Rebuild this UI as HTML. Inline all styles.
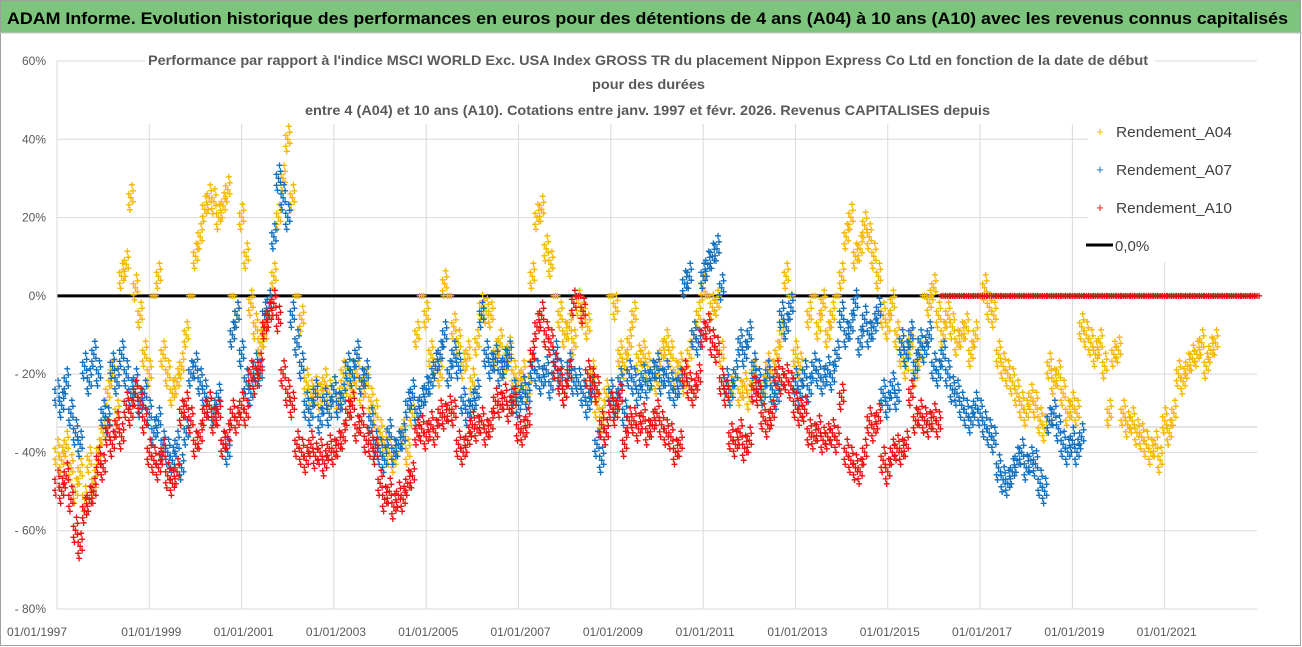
<!DOCTYPE html>
<html><head><meta charset="utf-8"><style>
html,body{margin:0;padding:0;background:#fff;}
svg{display:block;font-family:"Liberation Sans",sans-serif;}
</style></head><body>
<svg id="chart" width="1302" height="647" viewBox="0 0 1302 647">
<rect x="0" y="0" width="1302" height="647" fill="#fff"/>
<rect x="0.5" y="0.5" width="1300" height="645" fill="none" stroke="#a0a0a0"/>
<rect x="1" y="1" width="1299" height="32" fill="#7dc57c"/>
<line x1="0" y1="33" x2="1302" y2="33" stroke="#c8c8c8"/>
<text x="7" y="24" font-size="17" font-weight="bold" fill="#000" textLength="1281" lengthAdjust="spacingAndGlyphs">ADAM Informe. Evolution historique des performances en euros pour des détentions de 4 ans (A04) à 10 ans (A10) avec les revenus connus capitalisés</text>
<g id="grid"></g>
<g id="marks"></g>
<g id="axes"></g>
<rect x="145" y="44" width="1010" height="76" fill="#fff"/>
<text x="148" y="65" font-size="14" font-weight="bold" fill="#595959" textLength="1000" lengthAdjust="spacingAndGlyphs">Performance par rapport à l'indice MSCI WORLD Exc. USA Index GROSS TR  du placement Nippon Express Co Ltd en fonction de la date de début</text>
<text x="592" y="89" font-size="14" font-weight="bold" fill="#595959" textLength="113" lengthAdjust="spacingAndGlyphs">pour des durées</text>
<text x="305" y="115" font-size="14" font-weight="bold" fill="#595959" textLength="685" lengthAdjust="spacingAndGlyphs">entre 4 (A04) et 10 ans (A10). Cotations entre janv. 1997 et févr. 2026. Revenus CAPITALISES depuis</text>
<g>
<rect x="1088" y="112" width="170" height="150" fill="#fff"/>
<g><text x="1100" y="136" font-size="13" fill="#f5b800" text-anchor="middle">+</text><text x="1116" y="137" font-size="15" fill="#404040" textLength="116" lengthAdjust="spacingAndGlyphs">Rendement_A04</text></g>
<g><text x="1100" y="174" font-size="13" fill="#1170c0" text-anchor="middle">+</text><text x="1116" y="175" font-size="15" fill="#404040" textLength="116" lengthAdjust="spacingAndGlyphs">Rendement_A07</text></g>
<g><text x="1100" y="212" font-size="13" fill="#ee1111" text-anchor="middle">+</text><text x="1116" y="213" font-size="15" fill="#404040" textLength="116" lengthAdjust="spacingAndGlyphs">Rendement_A10</text></g>
<g><line x1="1086" y1="245" x2="1113" y2="245" stroke="#000" stroke-width="3"/><text x="1115" y="251" font-size="15" fill="#404040">0,0%</text></g>
</g>
</svg>
<script>
const yTicks = [60, 40, 20, 0, -20, -40, -60, -80];
const yTickLabels = ["60%", "40%", "20%", "0%", "- 20%", "- 40%", "- 60%", "- 80%"];
const xTicks = [1997, 1999, 2001, 2003, 2005, 2007, 2009, 2011, 2013, 2015, 2017, 2019, 2021];
const xTickLabels = ["01/01/1997","01/01/1999","01/01/2001","01/01/2003","01/01/2005","01/01/2007","01/01/2009","01/01/2011","01/01/2013","01/01/2015","01/01/2017","01/01/2019","01/01/2021"];
const extraGridValue = -33.5;
const seriesStart = 1997.0;
const seriesStep = 0.1;
const a04Values = [-40,-42,-38,-44,-50,-45,-52,-42,-48,-40,-35,-25,-20,-30,5,8,25,2,-5,-15,-20,0,5,-15,-20,-25,-22,-18,-10,0,10,15,22,25,24,20,23,27,0,-5,20,10,-2,-8,-12,-10,-5,5,20,30,40,25,0,-6,-22,-25,-24,-26,-22,-25,-24,-27,-20,-22,-24,-20,-25,-22,-27,-30,-35,-38,-40,-42,-38,-35,-40,-30,-10,0,-5,-15,-18,-20,3,0,-8,-12,-18,-15,-22,-12,-3,-4,-5,-15,-12,-18,-14,-20,-23,-20,-24,5,20,22,12,8,0,-5,-10,-8,-12,-2,-5,-8,-20,-28,-32,-25,0,-3,-15,-18,-12,-5,-16,-15,-18,-20,-22,-15,-12,-15,-20,-18,-22,-15,-10,-5,2,0,-3,-2,-15,-22,-24,-20,-25,-23,-26,-20,-22,-24,-18,-20,-15,-10,5,0,-15,-18,-20,-5,0,-8,-2,-10,-5,0,5,15,20,10,12,18,15,10,5,-5,-8,-2,-10,-15,-18,-12,-20,-15,0,-2,2,-5,-10,-5,-8,-12,-10,-8,-15,-10,0,2,-3,-5,-15,-18,-20,-22,-25,-28,-30,-26,-28,-32,-34,-18,-22,-20,-25,-30,-28,-30,-8,-10,-12,-15,-12,-18,-30,-15,-14,-30,-33,-32,-35,-36,-38,-40,-38,-42,-32,-35,-30,-20,-22,-18,-16,-15,-12,-18,-14,-12];
const a07Values = [-25,-28,-22,-30,-35,-38,-18,-22,-15,-20,-30,-32,-18,-22,-15,-20,-25,-22,-28,-25,-30,-35,-32,-38,-40,-42,-38,-44,-35,-20,-18,-22,-25,-28,-30,-26,-38,-40,-10,-5,-15,-22,-25,-18,-20,-5,-2,15,30,25,20,-5,-12,-18,-28,-30,-25,-32,-27,-30,-24,-28,-26,-18,-20,-15,-22,-20,-32,-38,-40,-42,-35,-40,-38,-36,-28,-25,-30,-27,-24,-22,-18,-15,-10,-20,-15,-18,-27,-30,-28,-25,-5,-15,-18,-16,-20,-17,-15,-25,-28,-24,-26,-18,-20,-22,-19,-23,-15,-20,-25,-18,-22,-22,-25,-28,-24,-38,-42,-35,-25,-28,-22,-30,-20,-22,-25,-21,-23,-20,-18,-22,-20,-23,-25,-22,3,5,-10,-12,5,8,10,12,2,-22,-25,-20,-12,-15,-10,-18,-22,-25,-20,-24,-26,-5,-8,-3,-22,-25,-20,-24,-18,-20,-22,-19,-21,-15,-5,-10,-8,-2,-12,-6,-10,-8,-4,-25,-28,-23,-26,-12,-15,-10,-18,-12,-14,-10,-18,-20,-15,-20,-24,-25,-28,-30,-32,-28,-30,-33,-35,-37,-44,-47,-48,-45,-42,-40,-44,-42,-43,-48,-50,-32,-30,-34,-38,-40,-37,-40,-36];
const a10Values = [-48,-50,-46,-52,-60,-64,-55,-52,-50,-42,-44,-35,-38,-33,-36,-28,-30,-25,-27,-32,-40,-42,-44,-40,-46,-48,-45,-30,-28,-32,-38,-36,-30,-28,-32,-30,-38,-36,-30,-32,-28,-30,-20,-22,-18,-8,-5,-2,-6,-20,-25,-28,-38,-40,-42,-38,-41,-40,-43,-39,-40,-38,-36,-30,-28,-34,-32,-37,-38,-40,-48,-52,-50,-54,-51,-52,-48,-46,-35,-34,-36,-33,-35,-30,-31,-29,-30,-38,-40,-37,-33,-34,-32,-35,-33,-27,-28,-26,-29,-27,-34,-35,-32,-15,-8,-5,-10,-12,-18,-22,-25,-20,-2,0,-4,-20,-22,-24,-33,-35,-28,-30,-26,-38,-32,-32,-34,-31,-35,-33,-30,-33,-35,-36,-40,-38,-20,-23,-25,-21,-10,-8,-12,-14,-22,-25,-36,-38,-35,-39,-37,-24,-25,-31,-33,-30,-20,-22,-21,-23,-28,-30,-29,-35,-36,-34,-37,-36,-35,-37,-26,-40,-42,-44,-45,-40,-32,-34,-31,-42,-45,-40,-39,-40,-38,-25,-32,-30,-32,-33,-31,-33,0,0,0,0,0,0,0,0,0,0,0,0,0,0,0,0,0,0,0,0,0,0,0,0,0,0,0,0,0,0,0,0,0,0,0,0,0,0,0,0,0,0,0,0,0,0,0,0,0,0,0,0,0,0,0,0,0,0,0,0,0,0,0,0,0,0,0,0,0];
const zeroLineValue = 0;

const NS = "http://www.w3.org/2000/svg";
const X0 = 57, X1 = 1257, Y0 = 61, Y1 = 609;
function xScale(year){ return X0 + (year - 1997) / 26 * (X1 - X0); }
function yScale(v){ return Y0 + (60 - v) / 140 * (Y1 - Y0); }
function mk(tag, attrs, parent){ const e = document.createElementNS(NS, tag); for (const k in attrs) e.setAttribute(k, attrs[k]); parent.appendChild(e); return e; }

const grid = document.getElementById('grid');
const axes = document.getElementById('axes');
const marks = document.getElementById('marks');

yTicks.forEach((v, i) => {
  if (v !== -80) {
    const l = mk('line', {x1: X0, x2: X1, y1: yScale(v), y2: yScale(v), stroke: '#d9d9d9', 'stroke-width': 1}, grid);
    
    
  }
  const t = mk('text', {x: 46, y: yScale(v) + 4, 'font-size': 12, fill: '#595959', 'text-anchor': 'end'}, axes);
  t.textContent = yTickLabels[i];
  
  
});
const eg = mk('line', {x1: X0, x2: X1, y1: yScale(extraGridValue), y2: yScale(extraGridValue), stroke: '#c8c8c8', 'stroke-width': 1}, grid);



xTicks.forEach((yr, i) => {
  const x = xScale(yr);
  if (i > 0) {
    const l = mk('line', {x1: x, x2: x, y1: 124, y2: Y1, stroke: '#d9d9d9', 'stroke-width': 1}, grid);
    
    
  }
  const t = mk('text', {x: i === 0 ? 37 : x + 2, y: 636, 'font-size': 12, fill: '#595959', 'text-anchor': 'middle'}, axes);
  t.textContent = xTickLabels[i];
  
  
});
const ax = mk('line', {x1: X0, x2: X0, y1: Y0, y2: Y1, stroke: '#d9d9d9', 'stroke-width': 1}, axes);


const bx = mk('line', {x1: X0, x2: X1, y1: Y1, y2: Y1, stroke: '#d9d9d9', 'stroke-width': 1}, axes);



const zl = mk('line', {x1: X0, x2: X1, y1: yScale(zeroLineValue), y2: yScale(zeroLineValue), stroke: '#000', 'stroke-width': 3}, marks);



const cluster = [[0,0],[2,-7],[-2,7],[1,-13],[-1,12],[-2,-4],[2,4]];
function drawSeries(values, color, name){
  const g = mk('g', {fill: color, 'font-size': 12, 'font-weight': 'bold', 'text-anchor': 'middle'}, marks);
  
  
  values.forEach((v, i) => {
    const cx = xScale(seriesStart + i * seriesStep), cy = yScale(v);
    const offs = v === 0 ? [[0,0],[2,0],[-2,0]] : cluster;
    offs.forEach(o => {
      const t = mk('text', {x: cx + o[0], y: cy + o[1] + 4}, g);
      t.textContent = '+';
      
      
    });
  });
}
drawSeries(a04Values, '#f5b800', 'series-a04');
drawSeries(a07Values, '#1170c0', 'series-a07');
drawSeries(a10Values, '#ee1111', 'series-a10');
</script>
</body></html>
